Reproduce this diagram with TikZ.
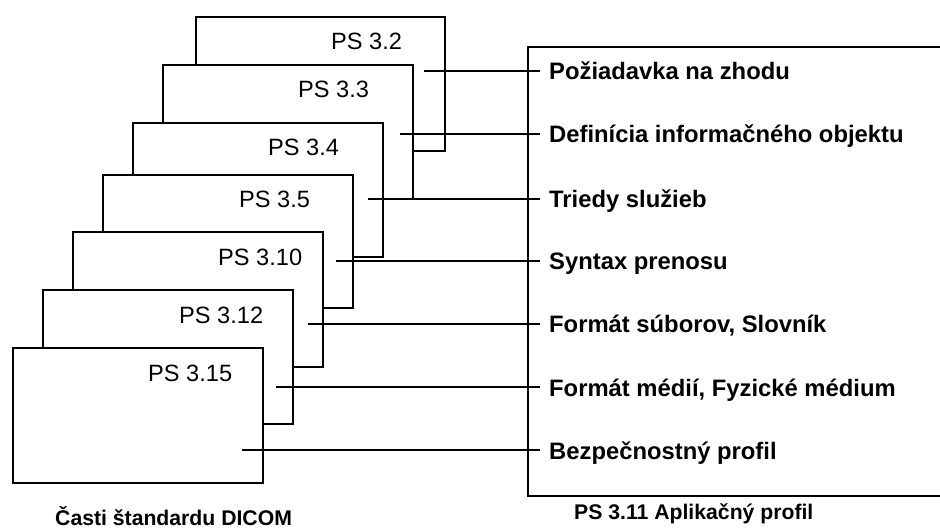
\documentclass[tikz,border=0pt]{standalone}
\usepackage{fontspec}
\setmainfont{Liberation Sans}
\begin{document}
\begin{tikzpicture}[x=1bp,y=-1bp,
  card/.style={draw=black, fill=white, line width=1.7bp, rectangle, inner sep=0pt,
    minimum width=250bp, minimum height=134bp, anchor=north west},
  cardlabel/.style={anchor=base west, inner sep=0pt, font=\fontsize{23.6bp}{28bp}\selectfont},
  topic/.style={anchor=base west, inner sep=0pt, font=\fontsize{23.8bp}{28bp}\selectfont\bfseries},
  caption/.style={anchor=base west, inner sep=0pt, font=\fontsize{21.2bp}{25bp}\selectfont\bfseries},
  link/.style={draw=black, line width=1.7bp},
]
\useasboundingbox (0,0) rectangle (940,530);

% stacked parts of the standard, back to front
\node[card, minimum width=249bp] (c2)  at (195,16)  {};
\node[cardlabel] (l2)  at (331,49.5)  {PS 3.2};
\node[card] (c3)  at (162,64)  {};
\node[cardlabel] (l3)  at (298,97.5)  {PS 3.3};
\node[card] (c4)  at (132,122) {};
\node[cardlabel] (l4)  at (268,155.5) {PS 3.4};
\node[card, minimum height=133bp] (c5)  at (102,174) {};
\node[cardlabel] (l5)  at (239,207.5) {PS 3.5};
\node[card, minimum height=135bp] (c10) at (72,231)  {};
\node[cardlabel] (l10) at (218,265.5) {PS 3.10};
\node[card] (c12) at (42,289)  {};
\node[cardlabel] (l12) at (179,323.5) {PS 3.12};
\node[card, minimum height=135bp] (c15) at (12,347)  {};
\node[cardlabel] (l15) at (148,381.5) {PS 3.15};

% application profile frame (open to the right)
\coordinate (pTR) at (940,47);
\coordinate (pBR) at (940,496);
\coordinate (pL)  at (528,0);
\draw[link] (pTR) -- (pTR -| pL) -- (pBR -| pL) -- (pBR);

% connectors from each part to its topic
\coordinate (s1) at (424,71);  \coordinate (e1) at (540,71);
\coordinate (s2) at (400,134); \coordinate (e2) at (540,134);
\coordinate (s3) at (368,199); \coordinate (e3) at (540,199);
\coordinate (s4) at (336,261); \coordinate (e4) at (540,261);
\coordinate (s5) at (308,324); \coordinate (e5) at (540,324);
\coordinate (s6) at (276,387); \coordinate (e6) at (540,387);
\coordinate (s7) at (242,450); \coordinate (e7) at (540,450);
\foreach \i in {1,...,7} { \draw[link] (s\i) -- (e\i); }

% topics
\node[topic] (t1) at (549,80)  {Požiadavka na zhodu};
\node[topic] (t2) at (549,143) {Definícia informačného objektu};
\node[topic] (t3) at (549,208) {Triedy služieb};
\node[topic] (t4) at (549,270) {Syntax prenosu};
\node[topic] (t5) at (549,333) {Formát súborov, Slovník};
\node[topic] (t6) at (549,396) {Formát médií, Fyzické médium};
\node[topic] (t7) at (549,459) {Bezpečnostný profil};

% captions
\node[caption] (capL) at (55,525)  {Časti štandardu DICOM};
\node[caption] (capR) at (574,519) {PS 3.11 Aplikačný profil};
\end{tikzpicture}
\end{document}
